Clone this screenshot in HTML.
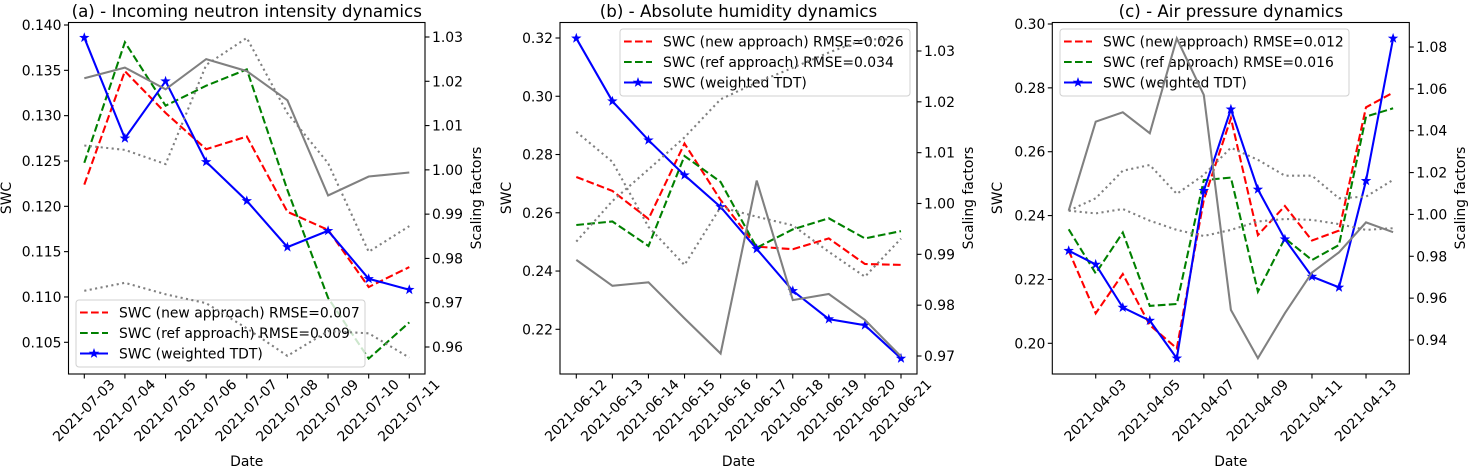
<!DOCTYPE html>
<html><head><meta charset="utf-8"><style>
body{margin:0;background:#fff;}
svg{display:block;font-family:"DejaVu Sans","Liberation Sans",sans-serif;}
</style></head><body>
<svg id="chart" width="1468" height="467" viewBox="0 0 1468 467" xmlns="http://www.w3.org/2000/svg"></svg>
<script>
// Panel (a)
const datesA = ["2021-07-03","2021-07-04","2021-07-05","2021-07-06","2021-07-07","2021-07-08","2021-07-09","2021-07-10","2021-07-11"];
const redA = [0.1224,0.1349,0.1303,0.1263,0.1277,0.1194,0.1174,0.1111,0.1133];
const greenA = [0.1248,0.1381,0.1311,0.1333,0.1351,0.1218,0.1099,0.1032,0.1072];
const blueA = [0.1386,0.1275,0.1338,0.1249,0.1206,0.1155,0.1173,0.1120,0.1108];
const graySolidA = [1.0207,1.0231,1.0182,1.0250,1.0223,1.0157,0.9942,0.9985,0.9994];
const grayDot1A = [1.0055,1.0045,1.0013,1.0237,1.0298,1.0128,1.0015,0.9815,0.9873];
const grayDot2A = [0.9727,0.9745,0.9719,0.9699,0.9642,0.9580,0.9636,0.9631,0.9576];
const leftTicksA = ["0.105","0.110","0.115","0.120","0.125","0.130","0.135","0.140"];
const rightTicksA = ["0.96","0.97","0.98","0.99","1.00","1.01","1.02","1.03"];
// Panel (b)
const datesB = ["2021-06-12","2021-06-13","2021-06-14","2021-06-15","2021-06-16","2021-06-17","2021-06-18","2021-06-19","2021-06-20","2021-06-21"];
const redB = [0.2723,0.2675,0.2579,0.2838,0.2644,0.2484,0.2475,0.2512,0.2424,0.2421];
const greenB = [0.2558,0.2570,0.2486,0.2795,0.2706,0.2480,0.2543,0.2581,0.2512,0.2537];
const blueB = [0.3199,0.2983,0.2849,0.2729,0.2620,0.2476,0.2332,0.2235,0.2214,0.2100];
const graySolidB = [0.9889,0.9838,0.9845,0.9774,0.9705,1.0045,0.9810,0.9822,0.9771,0.9699];
const grayDot1B = [1.0141,1.0082,0.9954,0.9879,0.9993,0.9974,0.9957,0.9905,0.9856,0.9931];
const grayDot2B = [0.9925,1.0005,1.0067,1.0130,1.0205,1.0238,1.0267,1.0297,1.0323,1.0323];
const leftTicksB = ["0.22","0.24","0.26","0.28","0.30","0.32"];
const rightTicksB = ["0.97","0.98","0.99","1.00","1.01","1.02","1.03"];
// Panel (c)
const datesC = ["2021-04-02","2021-04-03","2021-04-04","2021-04-05","2021-04-06","2021-04-07","2021-04-08","2021-04-09","2021-04-10","2021-04-11","2021-04-12","2021-04-13","2021-04-14"];
const redC = [0.2290,0.2094,0.2217,0.2057,0.1984,0.2449,0.2705,0.2339,0.2430,0.2322,0.2353,0.2739,0.2785];
const greenC = [0.2357,0.2219,0.2347,0.2117,0.2123,0.2511,0.2519,0.2162,0.2329,0.2261,0.2308,0.2710,0.2736];
const blueC = [0.2290,0.2247,0.2112,0.2071,0.1953,0.2478,0.2733,0.2482,0.2326,0.2209,0.2175,0.2509,0.2955];
const graySolidC = [1.0018,1.0443,1.0488,1.0388,1.0841,1.0571,0.9544,0.9313,0.9528,0.9722,0.9819,0.9962,0.9915];
const grayDot1C = [1.0018,1.0077,1.0209,1.0236,1.0098,1.0189,1.0319,1.0261,1.0185,1.0185,1.0077,1.0085,1.0165];
const grayDot2C = [1.0018,1.0005,1.0026,0.9970,0.9926,0.9897,0.9926,0.9966,0.9978,0.9974,0.9954,0.9926,0.9934];
const leftTicksC = ["0.20","0.22","0.24","0.26","0.28","0.30"];
const rightTicksC = ["0.94","0.96","0.98","1.00","1.02","1.04","1.06","1.08"];
const xLabelsC = ["2021-04-03","2021-04-05","2021-04-07","2021-04-09","2021-04-11","2021-04-13"];

const NS="http://www.w3.org/2000/svg";
const svg=document.getElementById('chart');
const LW=2.08, DASH='7.7,3.3', DOT='2.1,3.4';
function mk(tag,attrs,parent,text){const e=document.createElementNS(NS,tag);for(const k in attrs)e.setAttribute(k,attrs[k]);if(text!==undefined)e.textContent=text;(parent||svg).appendChild(e);return e;}
function linScale(v0,p0,v1,p1){return v=>p0+(v-v0)*(p1-p0)/(v1-v0);}
function starPts(cx,cy,r){let s=[];for(let i=0;i<10;i++){const rr=i%2?r*0.4:r;const a=-Math.PI/2+i*Math.PI/5;s.push((cx+rr*Math.cos(a)).toFixed(1)+','+(cy+rr*Math.sin(a)).toFixed(1));}return s.join(' ');}

function panel(p){
  const g=mk('g',{},svg);
  
  
  const x=i=>p.x0+i*p.dx;
  const yL=linScale(p.lv0,p.ly0,p.lv1,p.ly1);
  const yR=linScale(p.rv0,p.ry0,p.rv1,p.ry1);
  const path=(arr,sc)=>arr.map((v,i)=>(i?'L':'M')+x(i).toFixed(1)+','+sc(v).toFixed(1)).join(' ');
  const t=mk('text',{x:(p.bx0+p.bx1)/2,y:17,'text-anchor':'middle','font-size':'16.7px',fill:'#000'},g,p.title);
  
  p.lt.forEach(s=>{const yy=yL(parseFloat(s));
    mk('line',{x1:p.bx0-4.5,x2:p.bx0,y1:yy,y2:yy,stroke:'#000','stroke-width':1.1},g);
    const e=mk('text',{x:p.bx0-7,y:yy+5,'text-anchor':'end','font-size':'13.9px'},g,s);
    });
  p.rt.forEach(s=>{const yy=yR(parseFloat(s));
    mk('line',{x1:p.bx1,x2:p.bx1+4.5,y1:yy,y2:yy,stroke:'#000','stroke-width':1.1},g);
    const e=mk('text',{x:p.bx1+7,y:yy+5,'font-size':'13.9px'},g,s);
    });
  p.xl.forEach(s=>{const i=p.dates.indexOf(s);const xx=x(i);
    mk('line',{x1:xx,x2:xx,y1:374,y2:378.5,stroke:'#000','stroke-width':1.1},g);
    const e=mk('text',{x:0,y:0,'text-anchor':'middle','dominant-baseline':'central','font-size':'13.9px',transform:`translate(${xx},${411}) rotate(-45)`},g,s);
    });
  let e=mk('text',{x:(p.bx0+p.bx1)/2,y:466,'text-anchor':'middle','font-size':'13.9px'},g,'Date');
  
  e=mk('text',{x:0,y:0,'text-anchor':'middle','dominant-baseline':'central','font-size':'13.9px',transform:`translate(${p.swcX},198) rotate(-90)`},g,'SWC');
  
  e=mk('text',{x:0,y:0,'text-anchor':'middle','dominant-baseline':'central','font-size':'13.9px',transform:`translate(${p.sfX},198) rotate(-90)`},g,'Scaling factors');
  
  e=mk('path',{d:path(p.red,yL),fill:'none',stroke:'#ff0000','stroke-width':LW,'stroke-dasharray':DASH},g);
  
  e=mk('path',{d:path(p.green,yL),fill:'none',stroke:'#008000','stroke-width':LW,'stroke-dasharray':DASH},g);
  
  e=mk('path',{d:path(p.blue,yL),fill:'none',stroke:'#0000ff','stroke-width':LW},g);
  
  p.blue.forEach((v,i)=>{const m=mk('polygon',{points:starPts(x(i),yL(v),5.5),fill:'#0000ff'},g);
    });
  const L=p.leg;
  const lg=mk('g',{},g);
  mk('rect',{x:L.x,y:L.y,width:L.w,height:67,rx:3,fill:'rgba(255,255,255,0.8)',stroke:'#d0d0d0','stroke-width':1},lg);
  const items=[['#ff0000',DASH,p.ln1,false],['#008000',DASH,p.ln2,false],['#0000ff','',"SWC (weighted TDT)",true]];
  items.forEach((it,k)=>{const yy=L.y+12.5+k*20.5;
    const ln=mk('line',{x1:L.x+4,x2:L.x+32,y1:yy,y2:yy,stroke:it[0],'stroke-width':LW,'stroke-dasharray':it[1]||'none'},lg);
    
    if(it[3])mk('polygon',{points:starPts(L.x+18,yy,5.5),fill:'#0000ff'},lg);
    const tx=mk('text',{x:L.x+43,y:yy+5,'font-size':'13.9px'},lg,it[2]);
    });
  e=mk('path',{d:path(p.gs,yR),fill:'none',stroke:'#808080','stroke-width':LW},g);
  
  e=mk('path',{d:path(p.gd1,yR),fill:'none',stroke:'#808080','stroke-width':LW,'stroke-dasharray':DOT},g);
  
  e=mk('path',{d:path(p.gd2,yR),fill:'none',stroke:'#808080','stroke-width':LW,'stroke-dasharray':DOT},g);
  
  e=mk('rect',{x:p.bx0,y:22.5,width:p.bx1-p.bx0,height:351.5,fill:'none',stroke:'#000','stroke-width':1.1},g);
  
}

panel({id:'a',title:'(a) - Incoming neutron intensity dynamics',bx0:68.5,bx1:425,x0:84.3,dx:(409.3-84.3)/8,
  lv0:0.140,ly0:25,lv1:0.105,ly1:342.3,rv0:1.03,ry0:37,rv1:0.96,ry1:347,
  lt:leftTicksA,rt:rightTicksA,dates:datesA,xl:datesA,red:redA,green:greenA,blue:blueA,gs:graySolidA,gd1:grayDot1A,gd2:grayDot2A,
  swcX:7,sfX:477,leg:{x:76,y:300,w:289},ln1:'SWC (new approach) RMSE=0.007',ln2:'SWC (ref approach) RMSE=0.009'});
panel({id:'b',title:'(b) - Absolute humidity dynamics',bx0:560,bx1:917,x0:576.3,dx:(901-576.3)/9,
  lv0:0.32,ly0:38,lv1:0.22,ly1:329.3,rv0:1.03,ry0:51,rv1:0.97,ry1:356,
  lt:leftTicksB,rt:rightTicksB,dates:datesB,xl:datesB,red:redB,green:greenB,blue:blueB,gs:graySolidB,gd1:grayDot1B,gd2:grayDot2B,
  swcX:507,sfX:969,leg:{x:620,y:29,w:290},ln1:'SWC (new approach) RMSE=0.026',ln2:'SWC (ref approach) RMSE=0.034'});
panel({id:'c',title:'(c)  - Air pressure dynamics',bx0:1052.3,bx1:1409.3,x0:1068.7,dx:(1366-1095.7)/10,
  lv0:0.30,ly0:24,lv1:0.20,ly1:343.3,rv0:1.08,ry0:47,rv1:0.94,ry1:340,
  lt:leftTicksC,rt:rightTicksC,dates:datesC,xl:xLabelsC,red:redC,green:greenC,blue:blueC,gs:graySolidC,gd1:grayDot1C,gd2:grayDot2C,
  swcX:998,sfX:1461,leg:{x:1060,y:29,w:289},ln1:'SWC (new approach) RMSE=0.012',ln2:'SWC (ref approach) RMSE=0.016'});
</script>
</body></html>
